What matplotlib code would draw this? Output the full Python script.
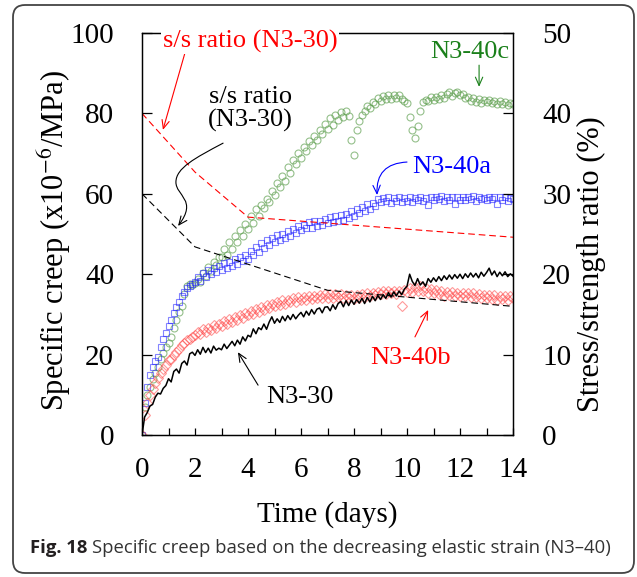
import numpy as np
import matplotlib
matplotlib.use("Agg")
import matplotlib.pyplot as plt
from matplotlib.patches import FancyArrowPatch, FancyBboxPatch
from matplotlib.path import Path
from matplotlib.transforms import IdentityTransform

plt.rcParams["font.family"] = ["Liberation Serif", "DejaVu Serif"]
plt.rcParams["mathtext.fontset"] = "stix"

# specific creep (x10^-6/MPa), one reading every 0.1 day from day 0 to day 14
n3_40c = [
    0, 7, 10, 12, 14, 15.5, 17, 19, 20.5, 22,
    23, 24.5, 26.5, 28.5, 30.5, 32, 35, 37, 37.5, 37.2,
    37.8, 38.9, 38.1, 40.2, 39.6, 41.8, 40.9, 43.1, 42.2, 44.3,
    44.2, 46.3, 44.8, 47.9, 46.3, 49.6, 47.9, 51.1, 49.6, 52.4,
    51.2, 54.4, 52.8, 56.1, 54.6, 57.2, 56.4, 58.7, 57.9, 60.8,
    59.8, 62.6, 61.8, 64.4, 63.3, 66.6, 65.2, 68.4, 67.3, 70.1,
    68.9, 71.6, 70.6, 73.2, 72.1, 74.4, 73.4, 75.9, 74.8, 77.3,
    76, 78.8, 77.2, 79.5, 78.3, 80.3, 79.1, 80.6, 79.4, 73.4,
    69.6, 75.9, 78.2, 79.6, 80.5, 81.9, 81.4, 82.8, 82.4, 83.8,
    83.1, 84.3, 83.6, 84.6, 83.7, 84.5, 83.9, 84.7, 83.6, 83.2,
    82.6, 79, 75.8, 74, 76.8, 80.5, 82.8, 83.4, 83.2, 84.1,
    83.3, 84.2, 83.5, 84.6, 83.9, 84.9, 85.2, 84.4, 85, 85.3,
    84.5, 84.8, 83.8, 84.2, 83.1, 83.8, 82.9, 83.6, 82.7, 83.4,
    82.8, 83.3, 82.6, 83.2, 82.3, 83, 82.4, 82.9, 82.2, 82.7,
    82.4,
]
n3_40a = [
    0, 8, 12, 15, 17, 18.5, 19.5, 21.8, 23.8, 25.4,
    27, 28.6, 30.4, 31.8, 33.2, 34.5, 35.6, 36.5, 37, 37.6,
    38, 39.3, 38.4, 40.2, 39.3, 41.1, 40, 41.6, 40.5, 42,
    41.1, 42.7, 41.6, 43.1, 42, 43.8, 42.6, 44.2, 43.3, 44.9,
    43.8, 45.8, 44.9, 46.7, 45.6, 47.7, 46.6, 48.6, 47.3, 49,
    47.9, 49.7, 48.6, 50.1, 49.1, 50.7, 49.6, 51.2, 50.3, 51.9,
    51, 52.3, 51.4, 52.9, 51.6, 53.2, 52, 53.3, 52.3, 53.8,
    52.7, 54.2, 53.1, 54.6, 53.2, 54.8, 53.6, 55, 54, 55.6,
    54.4, 56.2, 55.2, 56.8, 55.6, 57.4, 56.3, 57.8, 56.9, 58.6,
    57.9, 58.9, 58.1, 59.1, 57.8, 59, 58.2, 59.2, 58, 58.9,
    58.3, 59.2, 57.9, 59, 58.4, 59.3, 58.1, 58.9, 57.2, 59.1,
    58.4, 59.2, 58.6, 59.4, 58.2, 59.1, 58.5, 59.3, 57.4, 59.2,
    58.5, 59.3, 58.4, 59.1, 58.7, 59.4, 58.3, 59.2, 58.6, 59,
    58.4, 59.2, 58.7, 59.3, 57.5, 59.1, 58.5, 59.2, 58.3, 59,
    58.7,
]
n3_40b = [
    0, 5, 8, 10, 11.5, 13, 14.3, 15.4, 16.5, 17.5,
    18.7, 19, 19.8, 20.6, 21.5, 22.3, 23, 23.6, 24, 24.3,
    24.8, 25.6, 25.1, 26.3, 25.5, 26.7, 26.1, 27.4, 26.6, 27.6,
    27, 28.3, 27.7, 28.8, 28.2, 29.4, 28.6, 29.8, 29.2, 30.3,
    29.8, 30.9, 30.2, 31.3, 30.7, 31.8, 31.2, 32.3, 31.6, 32.7,
    32, 33.1, 32.3, 33.5, 32.7, 33.6, 33, 34, 33.2, 34.3,
    33.5, 34.4, 33.6, 34.6, 33.8, 34.7, 34, 34.9, 34.1, 35,
    34.2, 35, 34.1, 35.1, 34.3, 35, 34.2, 34.9, 34, 34.8,
    33.9, 34.9, 34.1, 35.1, 34.3, 35.3, 34.6, 35.4, 34.8, 35.6,
    35, 35.7, 35.1, 35.8, 35.3, 35.9, 35.1, 35.8, 32, 36.1,
    35.5, 36.6, 35.6, 36.8, 35.8, 37, 35.9, 36.5, 35.4, 36.2,
    35.2, 36, 35, 35.8, 34.7, 35.6, 34.8, 35.5, 34.5, 35.4,
    34.7, 35.3, 34.5, 35.2, 34.4, 35.2, 34.3, 35, 34.2, 34.9,
    34.1, 34.8, 33.9, 34.9, 33.7, 34.6, 33.8, 34.7, 33.6, 34.5,
    34.2,
]
n3_30 = [
    0, 4.5, 5.6, 7.2, 7.6, 9.4, 10.4, 10.2, 11.6, 12.3,
    14, 13.2, 15.8, 16.4, 15.4, 17.8, 18.4, 17.4, 20.2, 20.6,
    19.8, 21.2, 20.1, 21.8, 20.5, 21.6, 20.4, 22.1, 21.1, 21.6,
    21.2, 22.6, 21.5, 22.4, 23.3, 22.2, 23.6, 22.6, 24.4, 23.4,
    24.8, 24.4, 26.4, 25.2, 26.7, 26.2, 27.6, 26.3, 28.1, 29.4,
    27.8, 28.9, 28, 29.5, 28.4, 29.7, 28.7, 30, 28.9, 29.8,
    30.5, 29.4, 30.8, 29.8, 31.2, 30.1, 31.3, 31.6, 30.4, 31.8,
    31.9, 30.9, 32.4, 31.3, 32.7, 33.2, 31.9, 33.4, 32.2, 33.6,
    32.5, 33.7, 32.8, 34, 32.7, 34.2, 33.1, 34.5, 33.4, 34.7,
    33.7, 34.9, 34, 35.4, 34.3, 35.6, 34.6, 35.8, 34.9, 36.3,
    37, 40, 38.2, 37.2, 38.9, 37.3, 38.1, 37, 38.9, 38,
    39.1, 38.2, 39.4, 38.4, 39.6, 38.7, 39.8, 38.8, 39.9, 39,
    40, 38.9, 40.1, 39.2, 40.3, 39.3, 40.2, 39.1, 40.5, 39.5,
    40.4, 41.5, 39.8, 40.8, 39.4, 40.5, 39.6, 40.6, 39.4, 40.1,
    39.5,
]
time = np.arange(len(n3_30)) / 10

# stress/strength ratio (%), right axis
ratio_red_days = [0, 2, 4, 14]
ratio_red = [40, 32.7, 27.1, 24.6]
ratio_black_days = [0, 2, 7, 14]
ratio_black = [30, 23.4, 18, 16]

W, H = 637, 577
fig = plt.figure(figsize=(W / 100, H / 100), dpi=100)
ax = fig.add_axes([142 / W, 1 - 435 / H, 371 / W, 402 / H])

ax.plot(time, n3_40c, "o", ms=5, mfc="none", mec="#5c9e4c", mew=0.8, alpha=0.65)
ax.plot(time, n3_40a, "s", ms=4.8, mfc="none", mec="#2020ff", mew=0.8, alpha=0.55)
ax.plot(time, n3_40b, "D", ms=4.6, mfc="none", mec="#ff4848", mew=0.8, alpha=0.55)
ax.plot(time, n3_30, "-", color="black", lw=1.1)

ax.set_xlim(0, 14)
ax.set_ylim(0, 100)
ax.set_xticks(range(0, 15, 2))
ax.set_xticks(range(1, 15, 2), minor=True)
ax.set_yticks(range(0, 101, 20))
ax.tick_params(axis="x", which="both", direction="in", length=5, width=0.9,
               labelsize=21, pad=16, top=False)
ax.tick_params(axis="y", direction="in", length=7, width=0.9,
               labelsize=21, pad=20, right=False)
ax.set_xlabel("Time (days)", fontsize=21, labelpad=13)
ax.set_ylabel("Specific creep (x10$^{-6}$/MPa)", fontsize=22)
ax.yaxis.set_label_coords(-0.186, 0.485)

ax2 = ax.twinx()
ax2.set_ylim(0, 50)
ax2.set_yticks(range(0, 51, 10))
ax2.tick_params(axis="y", direction="in", length=7, width=0.9, labelsize=21, pad=21)
ax2.set_ylabel("Stress/strength ratio (%)", fontsize=22)
ax2.yaxis.set_label_coords(1.1725, 0.425)
for a in (ax, ax2):
    for s in a.spines.values():
        s.set_linewidth(0.9)

ax2.plot(ratio_red_days, ratio_red, color="red", lw=0.8, dashes=(6, 3.5))
ax2.plot(ratio_black_days, ratio_black, color="black", lw=0.8, dashes=(6, 3.5))

# annotations (in specific creep units)
tr = ax.transData
arrow = dict(arrowstyle="->,head_length=0.5,head_width=0.22", lw=0.8,
             shrinkA=0, shrinkB=0, mutation_scale=12)


def note(text, xy, color, **kw):
    ax2.text(xy[0], xy[1], text, transform=tr, color=color, fontsize=19,
             ha="center", va="center", clip_on=False, zorder=10, **kw)


def pointer(start, end, color, rad=0.0):
    ax2.annotate("", xy=end, xytext=start, xycoords=tr, textcoords=tr,
                 arrowprops=dict(arrow, color=color,
                                 connectionstyle=f"arc3,rad={rad}"))


note("s/s ratio (N3-30)", (4.08, 98), "red",
     bbox=dict(facecolor="white", edgecolor="none", pad=1))
pointer((1.74, 97.8), (0.79, 75.9), "red")

note("s/s ratio\n(N3-30)", (4.08, 81.1), "black", linespacing=1.05)
s_curve = Path(
    [(3.06, 72.6), (2.0, 68.9), (1.28, 66.4), (1.28, 62.9),
     (1.28, 59.5), (2.11, 58.5), (1.36, 52.0)],
    [Path.MOVETO, Path.CURVE4, Path.CURVE4, Path.CURVE4,
     Path.CURVE4, Path.CURVE4, Path.CURVE4])
ax2.add_patch(FancyArrowPatch(path=s_curve, transform=tr, color="black",
                              arrowstyle=arrow["arrowstyle"], lw=0.8,
                              mutation_scale=12, zorder=10))

note("N3-40c", (12.38, 95.2), "#1a801a")
pointer((12.72, 92.0), (12.72, 86.6), "#1a801a")

note("N3-40a", (11.7, 66.7), "blue")
pointer((10.0, 67.9), (8.87, 59.7), "blue", rad=0.5)

note("N3-40b", (10.15, 19.2), "red")
pointer((10.3, 24.4), (10.8, 31.1), "red")

note("N3-30", (5.96, 9.5), "black")
pointer((4.38, 12.4), (3.62, 20.6), "black")

# caption and frame
base = 24 / H
cap = fig.text(30 / W, base, "Fig. 18", family="Open Sans", weight="bold",
               fontsize=13.3, color="#231f20", va="baseline")
renderer = fig.canvas.get_renderer()
bb = cap.get_window_extent(renderer)
fig.text((bb.x1 + 5) / W, base,
         "Specific creep based on the decreasing elastic strain (N3\u201340)",
         family="Open Sans", fontsize=13.3, color="#333333", va="baseline")

fig.add_artist(FancyBboxPatch((13, 4), 621, 568, transform=IdentityTransform(),
                              boxstyle="round,pad=0,rounding_size=12",
                              facecolor="none", edgecolor="#444444", lw=1.3))

fig.savefig("out.png", dpi=100)
